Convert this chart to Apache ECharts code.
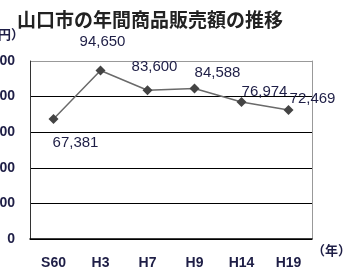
<!DOCTYPE html>
<html>
<head>
<meta charset="utf-8">
<script src="https://cdn.jsdelivr.net/npm/echarts@6/dist/echarts.min.js"></script>
<style>
  html, body { margin: 0; padding: 0; background: #fff; }
  #chart { width: 345px; height: 275px; }
</style>
</head>
<body>
<div id="chart"></div>
<script>
  // 年次と販売額（百万円）
  const years = ['S60', 'H3', 'H7', 'H9', 'H14', 'H19'];
  const sales = [67381, 94650, 83600, 84588, 76974, 72469];
  // ラベルの位置ずれ（点からのオフセット）
  const labelOffsets = [[22, 24], [2, -29], [7, -23], [23, -16], [23, -10], [24, -11]];
  const yTicks = [0, 20000, 40000, 60000, 80000, 100000];

  const textColor = '#1e1e46';
  const numFont = '"Liberation Sans", Arial, sans-serif';
  const jpFont = '"Noto Sans CJK JP", sans-serif';

  const chart = echarts.init(document.getElementById('chart'));
  chart.setOption({
    animation: false,
    title: {
      text: '山口市の年間商品販売額の推移',
      left: 12,
      top: 5,
      textStyle: {
        fontFamily: jpFont,
        fontSize: 19,
        fontWeight: 'bold',
        color: '#222',
      },
    },
    grid: {
      left: 30,
      right: 33,
      top: 61,
      bottom: 36,
      containLabel: false,
      outerBoundsMode: 'none',
    },
    graphic: [
      {
        type: 'text',
        left: -41,
        top: 28,
        style: {
          text: '（百万円）',
          font: 'bold 13px ' + jpFont,
          fill: textColor,
        },
      },
      {
        type: 'text',
        left: 312,
        top: 244,
        style: {
          text: '（年）',
          font: 'bold 13px ' + jpFont,
          fill: textColor,
        },
      },
    ],
    xAxis: {
      type: 'category',
      data: years,
      boundaryGap: true,
      axisLine: {lineStyle: {color: '#000', width: 1.5}},
      axisTick: {inside: true, length: 4, lineStyle: {color: '#000'}},
      axisLabel: {
        margin: 17,
        fontFamily: numFont,
        fontSize: 14,
        fontWeight: 'bold',
        color: textColor,
      },
    },
    yAxis: [
      {
        type: 'value',
        min: yTicks[0],
        max: yTicks[yTicks.length - 1],
        interval: yTicks[1] - yTicks[0],
        axisLine: {show: true, lineStyle: {color: '#333'}},
        axisTick: {show: false},
        axisLabel: {
          margin: 15,
          fontFamily: numFont,
          fontSize: 14,
          fontWeight: 'bold',
          color: textColor,
          formatter: (v) => v.toLocaleString('en-US'),
        },
        splitLine: {
          show: true,
          lineStyle: {color: ['#000', '#000', '#000', '#000', '#000', '#999'], width: 1},
        },
      },
      {
        // 右側の枠線
        type: 'value',
        position: 'right',
        min: yTicks[0],
        max: yTicks[yTicks.length - 1],
        interval: yTicks[1] - yTicks[0],
        axisLine: {show: true, lineStyle: {color: '#999'}},
        axisTick: {show: false},
        axisLabel: {show: false},
        splitLine: {show: false},
      },
    ],
    series: [
      {
        type: 'line',
        data: sales.map((v, i) => ({
          value: v,
          label: {offset: labelOffsets[i]},
        })),
        symbol: 'diamond',
        symbolSize: 10,
        lineStyle: {color: '#6a6a6a', width: 1.5},
        itemStyle: {color: '#444'},
        label: {
          show: true,
          position: 'inside',
          color: textColor,
          textBorderWidth: 0,
          fontFamily: numFont,
          fontSize: 15,
          formatter: (p) => p.value.toLocaleString('en-US'),
        },
      },
    ],
  });
</script>
</body>
</html>
